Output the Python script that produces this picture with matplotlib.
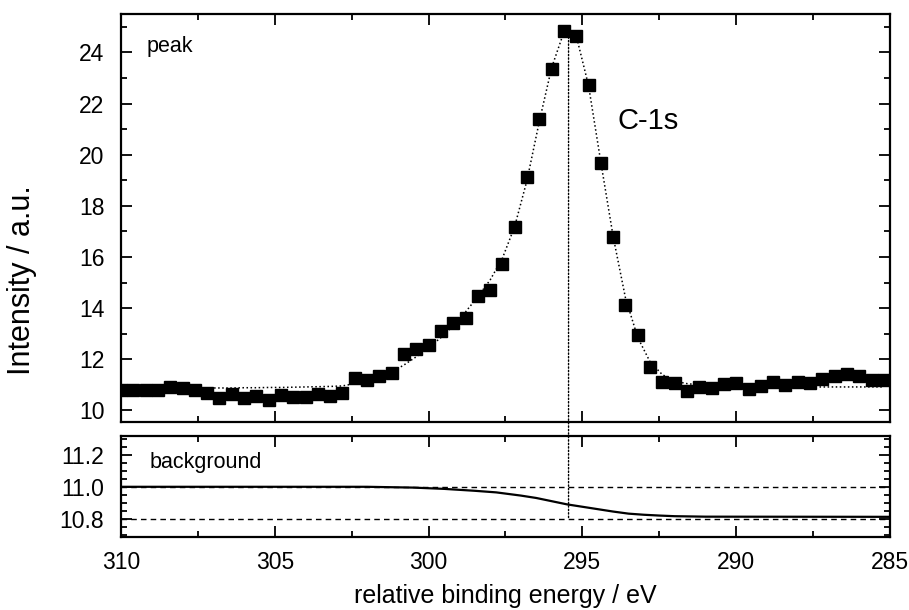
import matplotlib
matplotlib.use("Agg")
import matplotlib.pyplot as plt
from matplotlib.ticker import MultipleLocator
from matplotlib.patches import ConnectionPatch

plt.rcParams['font.family'] = ['Liberation Sans', 'DejaVu Sans']

# ---------- data ----------
energy = [310.0, 309.6, 309.2, 308.8, 308.4, 308.0, 307.6, 307.2, 306.8, 306.4,
          306.0, 305.6, 305.2, 304.8, 304.4, 304.0, 303.6, 303.2, 302.8, 302.4,
          302.0, 301.6, 301.2, 300.8, 300.4, 300.0, 299.6, 299.2, 298.8, 298.4,
          298.0, 297.6, 297.2, 296.8, 296.4, 296.0, 295.6, 295.2, 294.8, 294.4,
          294.0, 293.6, 293.2, 292.8, 292.4, 292.0, 291.6, 291.2, 290.8, 290.4,
          290.0, 289.6, 289.2, 288.8, 288.4, 288.0, 287.6, 287.2, 286.8, 286.4,
          286.0, 285.6, 285.2]

intensity = [10.82, 10.81, 10.80, 10.82, 10.92, 10.88, 10.82, 10.70, 10.48, 10.65,
             10.48, 10.58, 10.42, 10.61, 10.54, 10.52, 10.65, 10.56, 10.69, 11.26,
             11.21, 11.33, 11.47, 12.22, 12.41, 12.57, 13.10, 13.42, 13.63, 14.46,
             14.70, 15.74, 17.17, 19.13, 21.38, 23.35, 24.85, 24.65, 22.74, 19.68,
             16.78, 14.11, 12.96, 11.69, 11.13, 11.08, 10.76, 10.91, 10.86, 11.04,
             11.09, 10.85, 10.96, 11.12, 11.00, 11.13, 11.08, 11.24, 11.35, 11.42,
             11.35, 11.20, 11.20]

fit = [10.88, 10.88, 10.88, 10.88, 10.88, 10.88, 10.88, 10.88, 10.88, 10.88,
       10.89, 10.89, 10.90, 10.90, 10.91, 10.92, 10.93, 10.94, 10.96, 11.05,
       11.15, 11.30, 11.50, 11.78, 12.10, 12.45, 12.85, 13.30, 13.85, 14.45,
       15.10, 15.95, 17.20, 19.00, 21.30, 23.40, 24.80, 24.65, 22.70, 19.70,
       16.80, 14.40, 12.85, 11.90, 11.40, 11.15, 11.05, 11.00, 10.97, 10.95,
       10.94, 10.93, 10.93, 10.92, 10.92, 10.92, 10.92, 10.92, 10.92, 10.92,
       10.92, 10.92, 10.92]

bg_energy = [310, 302, 300.5, 299.5, 298.5, 297.8, 297, 296.5, 296, 295.5,
             295, 294.5, 294, 293.5, 293, 292.5, 292, 291, 285]
bg_value = [11.0, 11.0, 10.995, 10.987, 10.975, 10.965, 10.945, 10.93, 10.91, 10.89,
            10.875, 10.86, 10.845, 10.832, 10.825, 10.82, 10.816, 10.813, 10.812]

bg_levels = [11.0, 10.8]
peak_pos = 295.45
peak_top = 24.6

# ---------- figure ----------
fig = plt.figure(figsize=(9.09, 6.10), dpi=100)
ax1 = fig.add_axes([0.1331, 0.3082, 0.846, 0.6689])
ax2 = fig.add_axes([0.1331, 0.1192, 0.846, 0.1666])

ax1.plot(energy, fit, color="black", linestyle=":", lw=1.1)
ax1.plot(energy, intensity, "ks", ms=8.6, linestyle="none")
ax1.set_xlim(310, 285)
ax1.set_ylim(9.55, 25.5)
ax1.yaxis.set_major_locator(MultipleLocator(2))
ax1.yaxis.set_minor_locator(MultipleLocator(1))
ax1.xaxis.set_major_locator(MultipleLocator(5))
ax1.xaxis.set_minor_locator(MultipleLocator(2.5))
ax1.tick_params(labelbottom=False)
ax1.text(0.033, 0.945, "peak", transform=ax1.transAxes, fontsize=15.5, va="top")
ax1.text(293.85, 21.3, "C-1s", fontsize=21, va="center", ha="left")

ax2.plot(bg_energy, bg_value, color="black", lw=1.6)
for lev in bg_levels:
    ax2.axhline(lev, color="black", linestyle="--", lw=1.0, dashes=(4, 3))
ax2.set_xlim(310, 285)
ax2.set_ylim(10.684, 11.32)
ax2.xaxis.set_major_locator(MultipleLocator(5))
ax2.xaxis.set_minor_locator(MultipleLocator(2.5))
ax2.yaxis.set_major_locator(MultipleLocator(0.2))
ax2.yaxis.set_minor_locator(MultipleLocator(0.05))
ax2.text(0.037, 0.74, "background", transform=ax2.transAxes, fontsize=15.5, va="center")

for ax in (ax1, ax2):
    for sp in ax.spines.values():
        sp.set_linewidth(1.6)
    ax.tick_params(which="both", direction="in", top=True, right=True, width=1.3,
                   labelsize=16.5)
    ax.tick_params(which="major", length=8)
    ax.tick_params(which="minor", length=4)
    ax.tick_params(axis="x", pad=10)
    ax.tick_params(axis="y", pad=12)

ax2.set_yticks([10.8, 11.0, 11.2])
ax2.set_yticklabels(["10.8", "11.0", "11.2"])

# vertical marker through both panels
con = ConnectionPatch(xyA=(peak_pos, peak_top), coordsA=ax1.transData,
                      xyB=(peak_pos, bg_levels[1]), coordsB=ax2.transData,
                      color="black", linestyle=(0, (1, 1.5)), lw=1.0)
fig.add_artist(con)

ax2.set_xlabel("relative binding energy / eV", fontsize=18, labelpad=7)
fig.text(0.024, 0.541, "Intensity / a.u.", rotation=90, fontsize=22,
         ha="center", va="center")

fig.savefig("out.png", dpi=100)
